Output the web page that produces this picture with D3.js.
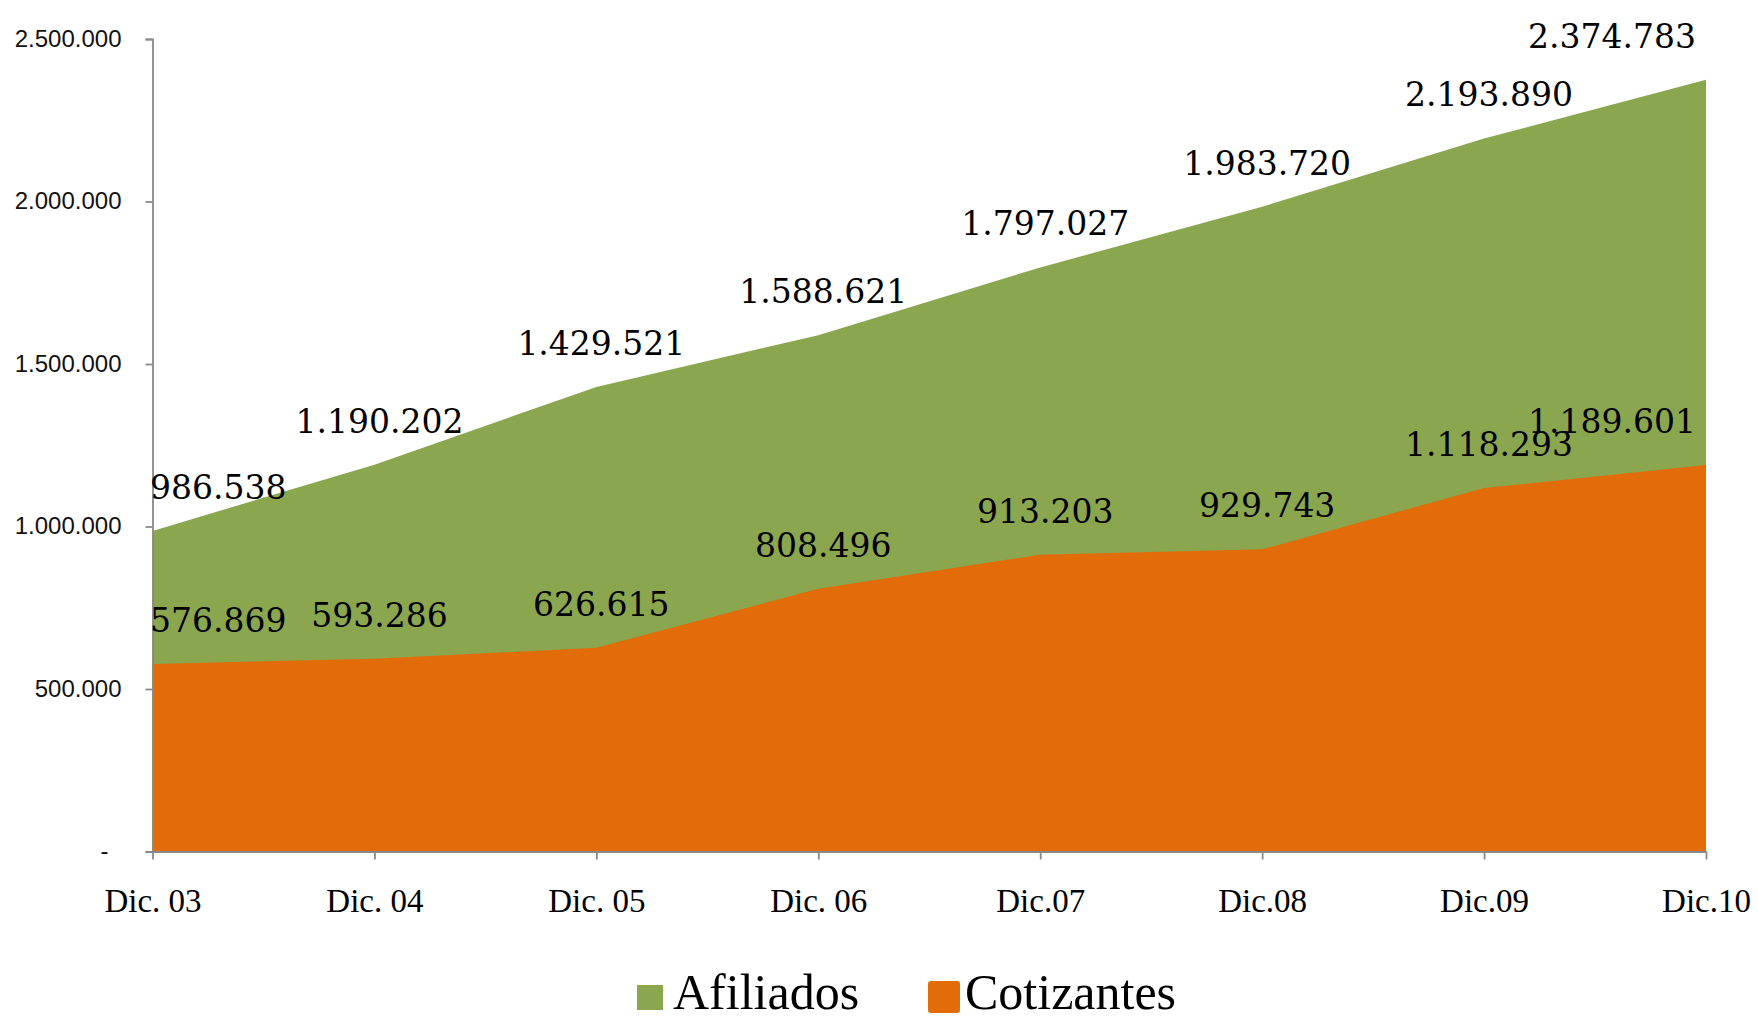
<!DOCTYPE html>
<html>
<head>
<meta charset="utf-8">
<script src="https://cdn.jsdelivr.net/npm/d3@7/dist/d3.min.js"></script>
<style>
  html, body { margin: 0; padding: 0; background: #fff; }
  svg { display: block; }
</style>
</head>
<body>
<svg id="chart" width="1758" height="1020"></svg>
<script>
// ---- data ----
const categories = ["Dic. 03", "Dic. 04", "Dic. 05", "Dic. 06", "Dic.07", "Dic.08", "Dic.09", "Dic.10"];
const afiliados = [986538, 1190202, 1429521, 1588621, 1797027, 1983720, 2193890, 2374783];
const cotizantes = [576869, 593286, 626615, 808496, 913203, 929743, 1118293, 1189601];
const yTicks = [0, 500000, 1000000, 1500000, 2000000, 2500000];
const seriesNames = ["Afiliados", "Cotizantes"];

// ---- setup ----
const svg = d3.select("#chart");
const x = d3.scalePoint().domain(categories).range([152.5, 1706]);
const y = d3.scaleLinear().domain([0, 2500000]).range([851.5, 39]);

const loc = d3.formatLocale({ decimal: ",", thousands: ".", grouping: [3], currency: ["", ""] });
const fmt = loc.format(",d");

const colors = { Afiliados: "#8AA64F", Cotizantes: "#E36C0A" };

// ---- areas ----
const area = d3.area()
  .x((d, i) => x(categories[i]))
  .y0(y(0))
  .y1(d => y(d));

svg.append("path").datum(afiliados).attr("d", area).attr("fill", colors.Afiliados);
svg.append("path").datum(cotizantes).attr("d", area).attr("fill", colors.Cotizantes);

// ---- axes ----
const axisColor = "#898989";
const yAxis = d3.axisLeft(y).tickValues(yTicks).tickSize(7).tickPadding(24)
  .tickFormat(d => d === 0 ? "-" : fmt(d));
const gy = svg.append("g").attr("transform", `translate(${x(categories[0])},0)`).call(yAxis);
gy.select(".domain").attr("stroke", axisColor).attr("stroke-width", 1.8);
gy.selectAll(".tick line").attr("stroke", axisColor).attr("stroke-width", 1.8);
gy.selectAll(".tick text")
  .attr("font-family", "'Liberation Sans', Arial, sans-serif")
  .attr("font-size", 24)
  .attr("fill", "#111")
  .attr("dy", "0.3em")
  .attr("dx", d => d === 0 ? -13 : 0);

const xAxis = d3.axisBottom(x).tickSize(8).tickPadding(29).tickSizeOuter(0);
const gx = svg.append("g").attr("transform", `translate(0,${y(0)})`).call(xAxis);
gx.select(".domain").attr("stroke", axisColor).attr("stroke-width", 1.8);
gx.selectAll(".tick line").attr("stroke", axisColor).attr("stroke-width", 1.8);
gx.selectAll(".tick text")
  .attr("font-family", "'Liberation Serif', 'Times New Roman', serif")
  .attr("font-size", 33)
  .attr("fill", "#000");

// ---- data labels ----
const labelFont = "'DejaVu Serif', serif";
const labelSize = 33;
const leftLimit = 150, rightLimit = 1696;
function addLabels(values) {
  const g = svg.append("g");
  values.forEach((v, i) => {
    const t = g.append("text")
      .attr("font-family", labelFont)
      .attr("font-size", labelSize)
      .attr("fill", "#000")
      .attr("text-anchor", "middle")
      .attr("y", y(v) - 32)
      .text(fmt(v));
    const w = t.node().getComputedTextLength();
    let cx = x(categories[i]) + 5;
    if (cx - w / 2 < leftLimit) cx = leftLimit + w / 2;
    if (cx + w / 2 > rightLimit) cx = rightLimit - w / 2;
    t.attr("x", cx);
  });
}
addLabels(afiliados);
addLabels(cotizantes);

// ---- legend ----
const lg = svg.append("g");
lg.append("rect").attr("x", 637).attr("y", 985).attr("width", 26).attr("height", 25)
  .attr("fill", colors.Afiliados);
lg.append("text").attr("x", 673).attr("y", 1009)
  .attr("font-family", "'Liberation Serif', 'Times New Roman', serif")
  .attr("font-size", 50).attr("fill", "#000").text(seriesNames[0]);
lg.append("rect").attr("x", 928).attr("y", 981).attr("width", 32).attr("height", 32)
  .attr("rx", 3).attr("fill", colors.Cotizantes);
lg.append("text").attr("x", 965).attr("y", 1009)
  .attr("font-family", "'Liberation Serif', 'Times New Roman', serif")
  .attr("font-size", 50).attr("fill", "#000").text(seriesNames[1]);
</script>
</body>
</html>
